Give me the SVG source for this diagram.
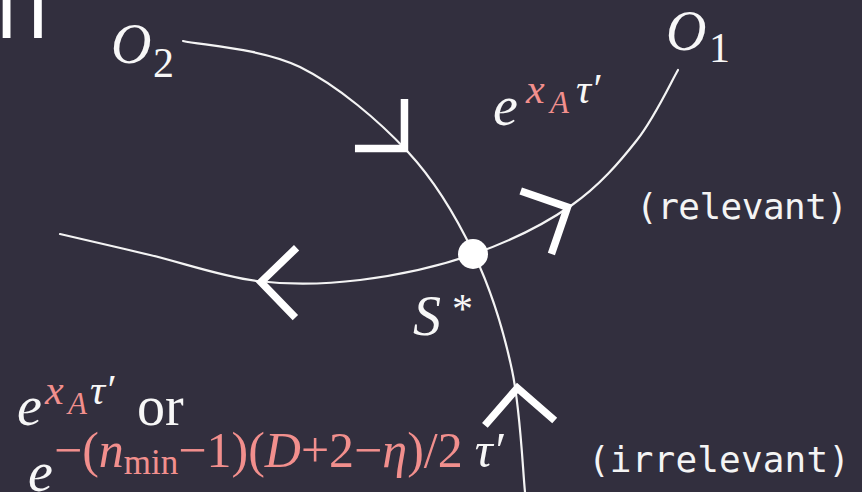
<svg xmlns="http://www.w3.org/2000/svg" xmlns:xlink="http://www.w3.org/1999/xlink" width="862" height="492" viewBox="0 0 862 492">
  <style>
    .bg { fill: #322f3e; }
    .curve { fill: none; stroke: #f4f4f4; stroke-width: 2.2; stroke-linecap: round; }
    .chev { fill: none; stroke: #ffffff; stroke-width: 7.5; stroke-linejoin: miter; stroke-miterlimit: 10; stroke-linecap: butt; }
    .m { font-family: "Liberation Serif", "DejaVu Serif", serif; fill: #f7f7f7; }
    .it { font-style: italic; }
    .big { font-size: 56px; }
    .sup { font-size: 42px; }
    .pink { fill: #f28f8d; }
    .white { fill: #f7f7f7; }
    .lab { font-family: "DejaVu Sans Mono", monospace; font-size: 36px; fill: #f4f4f4; }
  </style>
  <defs>
    <path id="chev" class="chev" d="M-40,-35 L-5,0 L-40,35"/>
  </defs>
  <rect class="bg" x="0" y="0" width="862" height="492"/>

  <!-- fragment of a title glyph at the top-left edge -->
  <text x="-5" y="38" font-family="DejaVu Sans, sans-serif" font-size="130" fill="#ffffff" textLength="54" lengthAdjust="spacingAndGlyphs">n</text>

  <g id="connectors">
    <path class="curve" d="M183,41 C202.5,45.3 262.5,48.5 300,67 C337.5,85.5 379,120.8 408,152 C437,183.2 456.7,217.7 474,254 C491.3,290.3 503.5,330.3 512,370 C520.5,409.7 522.8,471.7 525,492"/>
    <path class="curve" d="M60,234 C75,237.5 117.2,247.2 150,255 C182.8,262.8 222,276.8 257,281 C292,285.2 323.8,284.5 360,280 C396.2,275.5 438.7,266.5 474,254 C509.3,241.5 544.8,224 572,205 C599.2,186 619.3,162.5 637,140 C654.7,117.5 671.2,81.7 678,70"/>
    <use xlink:href="#chev" transform="translate(408,152) rotate(45)"/>
    <use xlink:href="#chev" transform="translate(572,205) rotate(-26)"/>
    <use xlink:href="#chev" transform="translate(256,282) rotate(181)"/>
    <use xlink:href="#chev" transform="translate(517,383) rotate(-94)"/>
  </g>

  <g id="node-S">
    <circle cx="473" cy="254" r="15" fill="#ffffff"/>
    <text class="m it big" x="413" y="335">S</text>
    <text class="m sup" x="452" y="323">*</text>
  </g>

  <g id="node-O2">
    <text class="m it big" x="111" y="63">O</text>
    <text class="m sup" x="153" y="77">2</text>
  </g>

  <g id="node-O1">
    <text class="m it big" x="666" y="50">O</text>
    <text class="m sup" x="709" y="62">1</text>
  </g>

  <g id="label-top">
    <text class="m it big" x="493" y="125">e</text>
    <text class="m it sup pink" x="526" y="103">x</text>
    <text class="m it pink" font-size="31" x="550" y="113">A</text>
    <text class="m it sup" x="576" y="103">τ′</text>
  </g>

  <g id="label-relevant">
    <text class="lab" x="636" y="219" textLength="212" lengthAdjust="spacing">(relevant)</text>
  </g>

  <g id="label-bottom">
    <text class="m it big" x="17" y="425">e</text>
    <text class="m it sup pink" x="45" y="404">x</text>
    <text class="m it pink" font-size="31" x="68" y="414">A</text>
    <text class="m it sup" x="90" y="404">τ′</text>
    <text class="m big" x="137" y="425">or</text>
    <text class="m it big" x="28" y="491">e</text>
    <text class="m pink" font-size="50" x="54" y="467">−(<tspan class="it">n</tspan><tspan font-size="35" dy="7">min</tspan><tspan dy="-7">−1)(</tspan><tspan class="it">D</tspan>+2−<tspan class="it">η</tspan>)/2<tspan class="it white" dx="12">τ′</tspan></text>
  </g>

  <g id="label-irrelevant">
    <text class="lab" x="588" y="472" textLength="262" lengthAdjust="spacing">(irrelevant)</text>
  </g>
</svg>
